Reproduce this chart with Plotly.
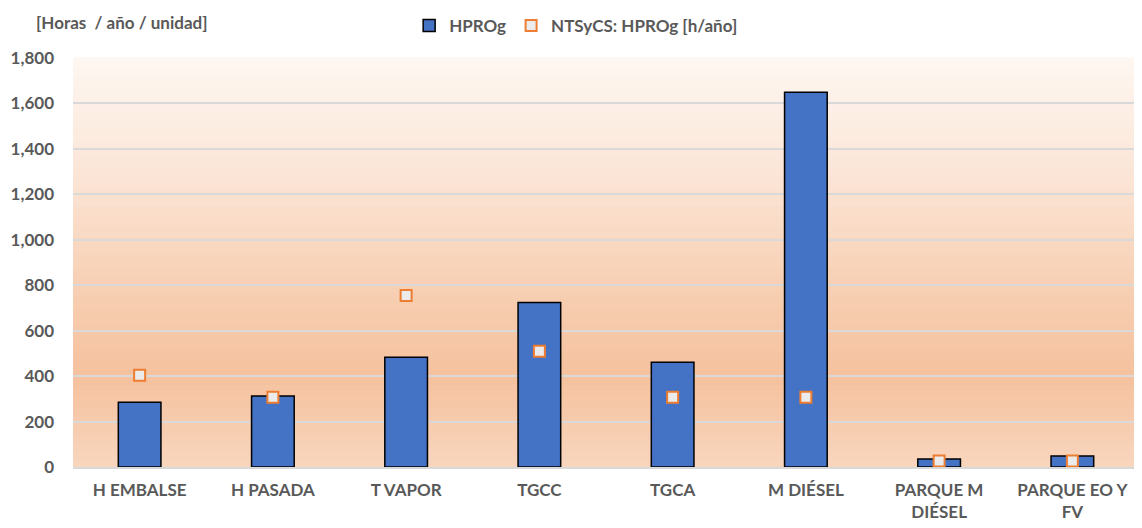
import plotly.graph_objects as go

categories = ["H EMBALSE", "H PASADA", "T VAPOR", "TGCC", "TGCA", "M DIÉSEL",
              "PARQUE M<br>DIÉSEL", "PARQUE EO Y<br>FV"]
hprog = [285, 312, 483, 724, 461, 1650, 35, 48]
ntsycs = [404, 307, 755, 509, 307, 307, 26, 26]
y_ticks = [0, 200, 400, 600, 800, 1000, 1200, 1400, 1600, 1800]

fig = go.Figure()

# background gradient stops (fraction of plot height from bottom, rgb)
stops = [(0.0, (248, 214, 190)), (0.22, (245, 193, 158)), (0.45, (247, 208, 180)),
         (0.7, (251, 228, 213)), (1.0, (254, 247, 242))]

def col_at(f):
    for (f0, c0), (f1, c1) in zip(stops[:-1], stops[1:]):
        if f0 <= f <= f1:
            t = (f - f0) / (f1 - f0)
            return "rgb(%d,%d,%d)" % tuple(round(a + (b - a) * t) for a, b in zip(c0, c1))
    return "rgb(%d,%d,%d)" % stops[-1][1]

n = 80
for i in range(n):
    f0 = i / n
    f1 = (i + 1) / n
    fig.add_shape(type="rect", xref="x domain", yref="y domain", x0=0, x1=1,
                  y0=f0, y1=f1 + 0.002, fillcolor=col_at((f0 + f1) / 2),
                  line=dict(width=0), layer="below")

fig.add_trace(go.Bar(
    x=categories, y=hprog, name="HPROg", width=0.32,
    marker=dict(color="#4472c4", line=dict(color="#000000", width=1.5)),
))
fig.add_trace(go.Scatter(
    x=categories, y=ntsycs, name="NTSyCS: HPROg [h/año]", mode="markers",
    marker=dict(symbol="square", size=11, color="#ebebeb",
                line=dict(color="#ed7d31", width=2)),
))

font_family = "Lato, 'Open Sans', sans-serif"
fig.update_layout(
    width=1134, height=520,
    margin=dict(l=64, r=3, t=49, b=61),
    paper_bgcolor="white", plot_bgcolor="white",
    showlegend=True,
    legend=dict(orientation="h", x=0.472, xanchor="center", y=1.0, yanchor="top",
                yref="container", font=dict(size=17, color="#595959", family=font_family,
                                            weight=700),
                itemwidth=30, traceorder="normal"),
    font=dict(family=font_family, color="#595959"),
    annotations=[dict(text="[Horas  / año / unidad]", xref="paper", yref="paper",
                      x=-0.037, y=1.088, xanchor="left", yanchor="middle", showarrow=False,
                      font=dict(size=17, color="#595959", family=font_family, weight=700))],
)
fig.update_xaxes(showgrid=False, showline=True, linecolor="#d9d9d9", linewidth=1.5,
                 tickfont=dict(size=17, color="#595959", family=font_family, weight=700),
                 ticks="", ticklabelstandoff=7)
fig.update_yaxes(range=[0, 1800], tickvals=y_ticks, tickformat=",",
                 showgrid=True, gridcolor="#d9d9d9", gridwidth=1.5, zeroline=False,
                 tickfont=dict(size=17, color="#595959", family=font_family, weight=700),
                 ticklabelstandoff=18)

fig.write_html("out.html")
